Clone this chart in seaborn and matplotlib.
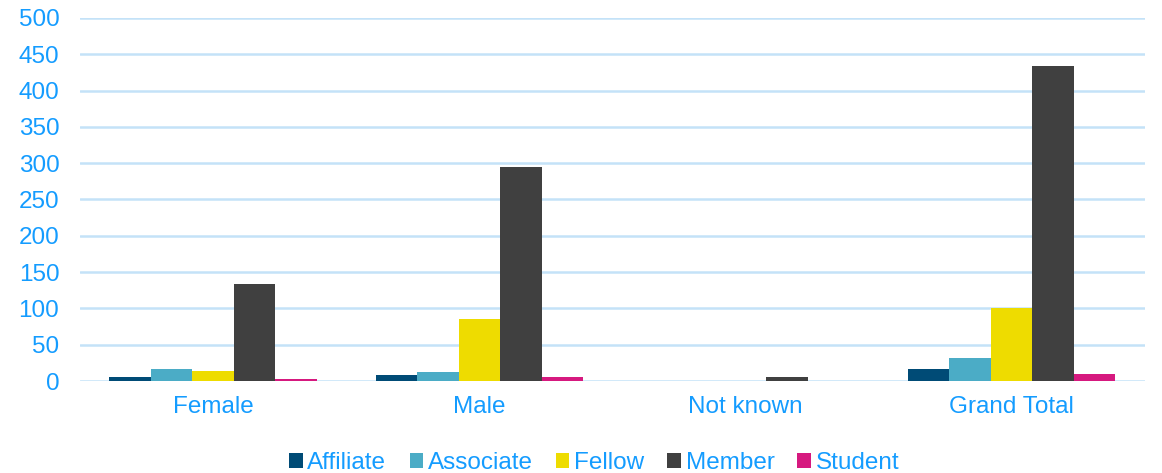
import matplotlib
matplotlib.use("Agg")
import matplotlib.pyplot as plt
import seaborn as sns
import pandas as pd

categories = ["Female", "Male", "Not known", "Grand Total"]
series = ["Affiliate", "Associate", "Fellow", "Member", "Student"]
affiliate = [5, 8, 0, 17]
associate = [17, 13, 0, 31]
fellow = [14, 86, 0, 101]
member = [134, 295, 5, 434]
student = [3, 5, 0, 10]
colors = ["#004B76", "#4BACC6", "#EEDC00", "#404040", "#D6197F"]
text_color = "#149CFF"
grid_color = "#C4E2F8"

values = [affiliate, associate, fellow, member, student]
rows = []
for s, vals in zip(series, values):
    for c, v in zip(categories, vals):
        rows.append({"Category": c, "Series": s, "Value": v})
df = pd.DataFrame(rows)

sns.set_theme(style="white")
plt.rcParams["font.family"] = ["Liberation Sans", "DejaVu Sans"]

fig = plt.figure(figsize=(11.62, 4.73), dpi=100)
ax = fig.add_axes([0.069, 0.1945, 0.916, 0.7675])

sns.barplot(data=df, x="Category", y="Value", hue="Series", order=categories,
            hue_order=series, palette=colors, width=0.78, saturation=1,
            edgecolor="none", ax=ax, legend=True)

ax.set_ylim(0, 500)
ax.set_yticks(range(0, 501, 50))
ax.set_xlim(-0.5, 3.5)
ax.yaxis.grid(True, color=grid_color, linewidth=1.8)
ax.set_axisbelow(True)
for sp in ax.spines.values():
    sp.set_visible(False)
ax.set_xlabel("")
ax.set_ylabel("")
ax.tick_params(axis="both", length=0, labelsize=17.5, colors=text_color, labelcolor=text_color)
ax.tick_params(axis="x", pad=11)
ax.tick_params(axis="y", pad=15)

handles, labels = ax.get_legend_handles_labels()
ax.legend(handles, labels, loc="upper center", bbox_to_anchor=(0.483, -0.135),
          ncol=5, frameon=False, fontsize=17.5, labelcolor=text_color,
          handlelength=0.55, handleheight=0.55, handletextpad=0.2, columnspacing=0.95)

fig.savefig("out.png", dpi=100)
